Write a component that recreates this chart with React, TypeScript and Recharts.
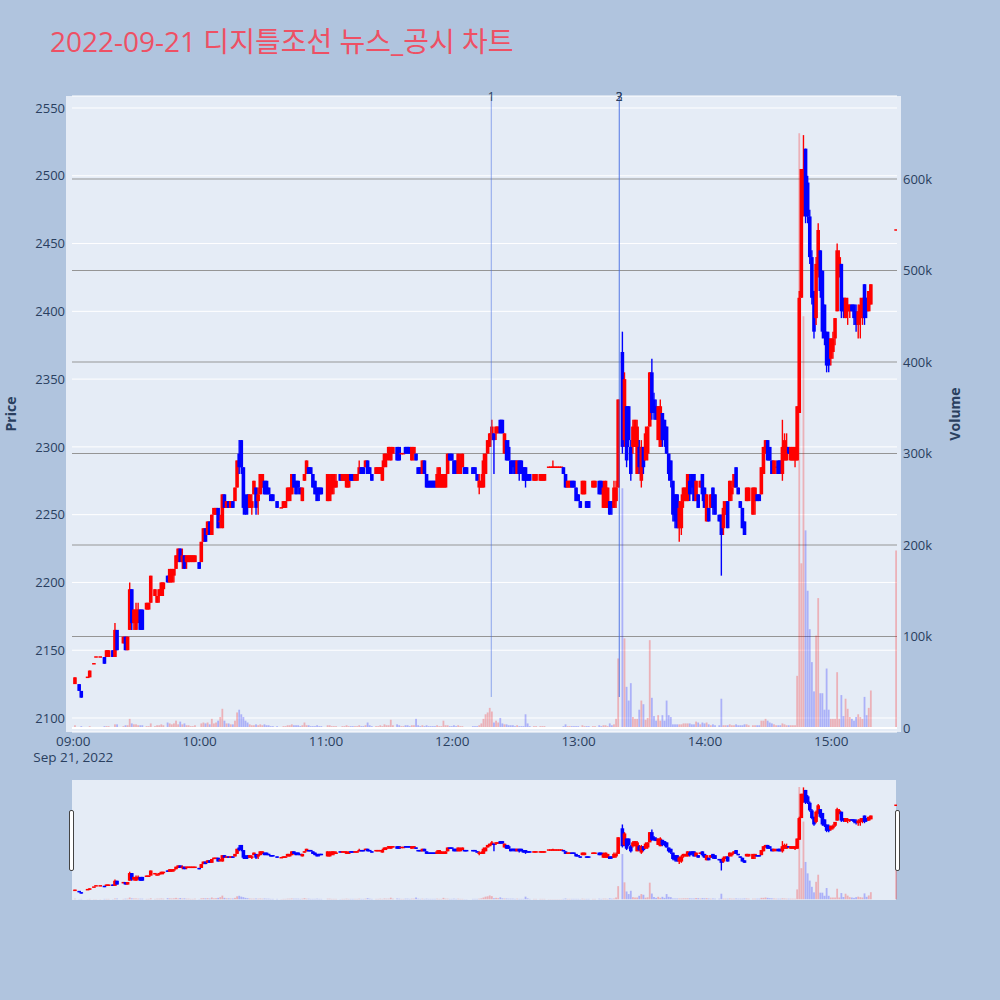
import React from 'react';
import { ComposedChart, Bar, XAxis, YAxis, CartesianGrid, ReferenceLine } from 'recharts';

// [minute after 09:00, open, high, low, close, volume (thousand shares)]
const hour09 = [
  [0, 2125, 2130, 2125, 2130, 3], [2, 2125, 2125, 2120, 2120, 1], [3, 2120, 2120, 2115, 2115, 2],
  [6, 2130, 2130, 2130, 2130, 1], [7, 2130, 2135, 2130, 2135, 2], [9, 2140, 2140, 2140, 2140, 1],
  [10, 2145, 2145, 2145, 2145, 1], [12, 2145, 2145, 2145, 2145, 1], [14, 2145, 2145, 2140, 2140, 2],
  [15, 2145, 2150, 2145, 2150, 2], [16, 2145, 2150, 2145, 2150, 2], [18, 2150, 2150, 2145, 2145, 1],
  [19, 2145, 2170, 2145, 2165, 4], [20, 2165, 2165, 2150, 2150, 4], [23, 2155, 2160, 2155, 2160, 2],
  [24, 2160, 2160, 2150, 2150, 3], [25, 2150, 2160, 2150, 2160, 3], [26, 2165, 2200, 2165, 2195, 10],
  [27, 2195, 2195, 2165, 2170, 5], [28, 2170, 2180, 2165, 2180, 4], [29, 2165, 2185, 2165, 2180, 4],
  [30, 2170, 2185, 2170, 2180, 3], [31, 2180, 2180, 2165, 2165, 3], [32, 2180, 2180, 2165, 2165, 3],
  [34, 2180, 2185, 2180, 2185, 2], [35, 2180, 2185, 2180, 2185, 2], [36, 2185, 2205, 2185, 2205, 5],
  [38, 2190, 2195, 2190, 2195, 2], [39, 2185, 2190, 2185, 2190, 3], [40, 2190, 2195, 2185, 2195, 3],
  [41, 2190, 2200, 2190, 2200, 4], [42, 2195, 2200, 2190, 2200, 3], [44, 2205, 2205, 2200, 2200, 6],
  [45, 2200, 2210, 2200, 2210, 5], [46, 2200, 2210, 2200, 2210, 4], [47, 2205, 2210, 2200, 2210, 5],
  [48, 2210, 2220, 2210, 2220, 8], [49, 2215, 2225, 2215, 2225, 4], [50, 2225, 2225, 2215, 2215, 7],
  [51, 2215, 2225, 2210, 2220, 4], [52, 2220, 2220, 2210, 2210, 5], [53, 2215, 2220, 2210, 2220, 3],
  [54, 2215, 2220, 2215, 2220, 3], [55, 2215, 2220, 2215, 2220, 2], [56, 2215, 2220, 2215, 2220, 2],
  [57, 2215, 2220, 2215, 2220, 3], [59, 2215, 2215, 2210, 2210, 1],
];

const hour10 = [
  [60, 2215, 2230, 2215, 2230, 5], [61, 2230, 2240, 2230, 2240, 6], [62, 2240, 2240, 2230, 2230, 5],
  [63, 2235, 2245, 2235, 2245, 6], [64, 2245, 2245, 2235, 2235, 4], [65, 2235, 2250, 2235, 2250, 10],
  [66, 2250, 2255, 2250, 2255, 5], [67, 2250, 2255, 2250, 2255, 6], [68, 2255, 2255, 2240, 2240, 8],
  [69, 2245, 2250, 2240, 2245, 12], [70, 2240, 2265, 2240, 2265, 21], [71, 2265, 2265, 2255, 2255, 8],
  [72, 2255, 2260, 2255, 2260, 5], [73, 2260, 2260, 2255, 2255, 5], [74, 2255, 2260, 2255, 2260, 4],
  [75, 2260, 2260, 2255, 2255, 4], [76, 2260, 2270, 2260, 2270, 8], [77, 2270, 2290, 2270, 2290, 17],
  [78, 2295, 2305, 2280, 2285, 20], [79, 2305, 2305, 2280, 2285, 15], [80, 2285, 2285, 2250, 2255, 12],
  [81, 2260, 2265, 2250, 2250, 8], [82, 2265, 2265, 2250, 2255, 6], [83, 2255, 2265, 2255, 2265, 4],
  [84, 2255, 2265, 2250, 2260, 3], [85, 2265, 2275, 2265, 2275, 3], [86, 2270, 2270, 2250, 2255, 4],
  [87, 2260, 2270, 2250, 2265, 3], [88, 2265, 2280, 2265, 2280, 4], [89, 2270, 2280, 2270, 2280, 3],
  [90, 2275, 2275, 2265, 2265, 4], [91, 2275, 2275, 2265, 2265, 3], [92, 2270, 2270, 2265, 2265, 3],
  [93, 2265, 2265, 2260, 2260, 2], [94, 2265, 2265, 2260, 2260, 2], [96, 2260, 2260, 2255, 2255, 2],
  [98, 2255, 2255, 2255, 2255, 1], [99, 2255, 2260, 2255, 2260, 2], [100, 2255, 2260, 2255, 2260, 2],
  [101, 2260, 2270, 2260, 2270, 3], [102, 2260, 2270, 2260, 2270, 3], [103, 2265, 2280, 2265, 2280, 4],
  [104, 2280, 2280, 2270, 2270, 3], [105, 2275, 2275, 2265, 2265, 3], [106, 2275, 2275, 2265, 2270, 3],
  [107, 2270, 2270, 2265, 2265, 2], [108, 2260, 2270, 2260, 2270, 3], [109, 2275, 2280, 2275, 2280, 6],
  [110, 2280, 2290, 2280, 2290, 3], [111, 2285, 2285, 2280, 2280, 3], [112, 2285, 2285, 2280, 2280, 2],
  [113, 2280, 2280, 2270, 2270, 2], [114, 2275, 2275, 2265, 2265, 2], [115, 2270, 2270, 2260, 2260, 3],
  [116, 2270, 2270, 2260, 2265, 2], [117, 2270, 2270, 2265, 2265, 2],
];

const hour11 = [
  [120, 2260, 2280, 2260, 2280, 3], [121, 2260, 2280, 2260, 2275, 3], [122, 2265, 2280, 2265, 2280, 2],
  [123, 2270, 2280, 2265, 2280, 2], [124, 2270, 2280, 2270, 2275, 2], [126, 2280, 2280, 2275, 2275, 1],
  [127, 2275, 2280, 2275, 2280, 2], [128, 2275, 2280, 2275, 2280, 2], [129, 2270, 2280, 2270, 2280, 3],
  [130, 2270, 2280, 2270, 2275, 2], [131, 2280, 2280, 2275, 2275, 2], [132, 2280, 2280, 2275, 2275, 2],
  [133, 2275, 2280, 2275, 2280, 2], [134, 2275, 2280, 2275, 2280, 2], [135, 2280, 2290, 2280, 2285, 3],
  [136, 2285, 2285, 2280, 2280, 2], [137, 2285, 2285, 2280, 2280, 2], [138, 2285, 2290, 2285, 2290, 3],
  [139, 2290, 2290, 2280, 2280, 6], [140, 2285, 2285, 2280, 2280, 3], [141, 2280, 2280, 2275, 2275, 2],
  [143, 2280, 2285, 2280, 2285, 2], [144, 2280, 2285, 2280, 2285, 2], [145, 2280, 2285, 2280, 2285, 3],
  [146, 2275, 2290, 2275, 2285, 2], [147, 2285, 2295, 2285, 2295, 4], [148, 2290, 2295, 2285, 2295, 3],
  [149, 2295, 2300, 2290, 2300, 3], [150, 2290, 2300, 2290, 2300, 9], [151, 2295, 2300, 2295, 2300, 3],
  [153, 2300, 2300, 2290, 2290, 4], [154, 2300, 2300, 2290, 2290, 3], [155, 2295, 2295, 2295, 2295, 2],
  [156, 2295, 2295, 2295, 2295, 2], [157, 2300, 2300, 2295, 2295, 3], [158, 2300, 2300, 2295, 2295, 3],
  [159, 2300, 2300, 2295, 2295, 2], [160, 2290, 2300, 2290, 2300, 3], [161, 2295, 2300, 2290, 2300, 3],
  [162, 2295, 2295, 2290, 2290, 10], [163, 2285, 2285, 2280, 2280, 3], [164, 2285, 2285, 2280, 2280, 2],
  [165, 2280, 2290, 2280, 2290, 3], [166, 2290, 2290, 2280, 2280, 2], [167, 2280, 2280, 2270, 2270, 3],
  [168, 2275, 2275, 2270, 2270, 2], [169, 2275, 2275, 2270, 2270, 2], [170, 2275, 2275, 2270, 2270, 2],
  [171, 2275, 2275, 2270, 2270, 2], [172, 2270, 2285, 2270, 2280, 3], [173, 2270, 2285, 2270, 2285, 2],
  [174, 2270, 2280, 2270, 2280, 2], [175, 2270, 2280, 2270, 2275, 8], [176, 2270, 2280, 2270, 2280, 3],
  [177, 2280, 2295, 2280, 2295, 3], [178, 2295, 2295, 2290, 2290, 2], [179, 2295, 2295, 2290, 2290, 2],
];

const hour12 = [
  [180, 2290, 2290, 2280, 2280, 3], [181, 2290, 2290, 2280, 2280, 2], [182, 2280, 2295, 2280, 2295, 3],
  [183, 2280, 2295, 2280, 2290, 2], [184, 2285, 2295, 2285, 2295, 2], [185, 2285, 2285, 2280, 2280, 1],
  [186, 2285, 2285, 2280, 2280, 1], [189, 2285, 2285, 2280, 2280, 2], [190, 2285, 2285, 2280, 2280, 2],
  [191, 2280, 2280, 2275, 2275, 2], [192, 2270, 2280, 2265, 2275, 3], [193, 2270, 2280, 2270, 2275, 5],
  [194, 2270, 2295, 2270, 2290, 10], [195, 2280, 2295, 2280, 2295, 15], [196, 2295, 2305, 2295, 2305, 17],
  [197, 2300, 2310, 2300, 2310, 22], [198, 2305, 2320, 2305, 2315, 18], [199, 2310, 2310, 2280, 2305, 6],
  [200, 2310, 2315, 2305, 2315, 8], [201, 2310, 2315, 2310, 2315, 6], [202, 2320, 2320, 2310, 2310, 11],
  [203, 2320, 2320, 2310, 2310, 5], [204, 2295, 2310, 2295, 2310, 4], [205, 2305, 2305, 2290, 2290, 4],
  [206, 2300, 2305, 2290, 2290, 3], [207, 2290, 2290, 2280, 2280, 3], [208, 2290, 2290, 2280, 2285, 3],
  [209, 2290, 2290, 2280, 2280, 2], [210, 2280, 2290, 2280, 2290, 3], [211, 2290, 2290, 2275, 2280, 2],
  [212, 2290, 2290, 2280, 2280, 2], [213, 2285, 2285, 2275, 2275, 2], [214, 2285, 2285, 2270, 2275, 15],
  [215, 2280, 2280, 2275, 2275, 5], [216, 2280, 2280, 2275, 2275, 2], [218, 2275, 2280, 2275, 2280, 2],
  [219, 2275, 2280, 2275, 2280, 2], [221, 2275, 2280, 2275, 2280, 2], [222, 2275, 2280, 2275, 2280, 2],
  [223, 2275, 2280, 2275, 2280, 2], [225, 2285, 2285, 2285, 2285, 1], [226, 2285, 2285, 2285, 2285, 1],
  [227, 2285, 2290, 2285, 2285, 1], [228, 2285, 2285, 2285, 2285, 1], [229, 2285, 2285, 2285, 2285, 1],
  [230, 2285, 2285, 2285, 2285, 1], [231, 2285, 2285, 2285, 2285, 1], [232, 2285, 2285, 2280, 2280, 2],
  [233, 2280, 2280, 2270, 2270, 4], [234, 2270, 2275, 2270, 2275, 2], [235, 2270, 2275, 2270, 2275, 2],
  [236, 2275, 2275, 2270, 2270, 2], [237, 2275, 2275, 2270, 2270, 2], [238, 2270, 2270, 2260, 2260, 2],
  [239, 2265, 2265, 2260, 2260, 2],
];

const hour13 = [
  [240, 2260, 2260, 2255, 2255, 1], [241, 2265, 2275, 2265, 2275, 3], [242, 2265, 2275, 2265, 2275, 2],
  [243, 2260, 2260, 2255, 2255, 2], [244, 2260, 2260, 2255, 2255, 2], [246, 2270, 2275, 2270, 2275, 2],
  [247, 2270, 2275, 2270, 2275, 2], [249, 2275, 2275, 2265, 2265, 3], [250, 2275, 2275, 2265, 2265, 2],
  [251, 2255, 2275, 2255, 2270, 3], [252, 2255, 2275, 2255, 2275, 3], [253, 2255, 2270, 2255, 2270, 2],
  [254, 2260, 2260, 2250, 2250, 5], [255, 2260, 2260, 2250, 2255, 3], [256, 2255, 2275, 2255, 2270, 4],
  [257, 2260, 2275, 2255, 2270, 10], [258, 2270, 2335, 2270, 2335, 76], [260, 2370, 2385, 2295, 2300, 262],
  [261, 2305, 2355, 2300, 2350, 98], [262, 2330, 2330, 2285, 2290, 45], [263, 2330, 2330, 2300, 2305, 30],
  [264, 2300, 2305, 2275, 2280, 49], [265, 2300, 2320, 2295, 2315, 12], [266, 2300, 2320, 2300, 2320, 10],
  [267, 2280, 2320, 2280, 2315, 10], [268, 2300, 2305, 2280, 2285, 20], [269, 2275, 2305, 2270, 2300, 30],
  [270, 2300, 2300, 2280, 2285, 26], [271, 2290, 2315, 2290, 2310, 9], [272, 2295, 2315, 2290, 2315, 11],
  [273, 2315, 2355, 2315, 2355, 96], [274, 2355, 2365, 2320, 2325, 33], [275, 2335, 2340, 2320, 2325, 13],
  [276, 2330, 2335, 2320, 2320, 8], [277, 2305, 2330, 2305, 2330, 14], [278, 2300, 2335, 2300, 2330, 8],
  [279, 2325, 2325, 2300, 2305, 14], [280, 2320, 2320, 2300, 2305, 8], [281, 2315, 2315, 2295, 2295, 30],
  [282, 2295, 2295, 2275, 2280, 14], [283, 2290, 2290, 2270, 2275, 12], [284, 2275, 2275, 2245, 2250, 4],
  [285, 2265, 2265, 2240, 2245, 4], [286, 2265, 2265, 2240, 2240, 4], [287, 2240, 2260, 2230, 2255, 4],
  [288, 2240, 2265, 2235, 2260, 4], [289, 2260, 2270, 2255, 2270, 5], [290, 2260, 2270, 2260, 2270, 5],
  [291, 2260, 2280, 2260, 2280, 5], [292, 2275, 2280, 2260, 2265, 5], [293, 2280, 2280, 2265, 2270, 4],
  [294, 2280, 2280, 2260, 2260, 4], [295, 2260, 2275, 2260, 2275, 7], [296, 2265, 2265, 2255, 2255, 6],
  [297, 2270, 2275, 2270, 2275, 4], [298, 2280, 2280, 2260, 2265, 6], [299, 2270, 2270, 2255, 2255, 5],
];

const hour14 = [
  [300, 2245, 2265, 2245, 2265, 6], [301, 2255, 2255, 2245, 2245, 4], [302, 2255, 2265, 2255, 2265, 3],
  [303, 2270, 2270, 2250, 2255, 4], [304, 2265, 2265, 2250, 2250, 3], [306, 2250, 2250, 2245, 2245, 3],
  [307, 2250, 2250, 2205, 2235, 32], [308, 2240, 2260, 2235, 2255, 3], [309, 2250, 2260, 2250, 2260, 3],
  [310, 2260, 2260, 2240, 2240, 3], [311, 2260, 2275, 2260, 2275, 4], [312, 2265, 2275, 2260, 2270, 3],
  [313, 2270, 2280, 2270, 2280, 3], [314, 2285, 2285, 2270, 2270, 4], [315, 2270, 2270, 2265, 2265, 3],
  [316, 2260, 2260, 2255, 2255, 3], [317, 2255, 2255, 2240, 2240, 3], [318, 2245, 2245, 2235, 2235, 4],
  [319, 2260, 2270, 2260, 2270, 4], [320, 2260, 2270, 2260, 2270, 3], [322, 2250, 2270, 2250, 2270, 3],
  [323, 2260, 2270, 2250, 2270, 3], [324, 2265, 2265, 2260, 2260, 3], [325, 2265, 2265, 2260, 2260, 3],
  [326, 2265, 2285, 2265, 2285, 8], [327, 2280, 2300, 2280, 2300, 8], [328, 2295, 2305, 2295, 2305, 10],
  [329, 2305, 2305, 2290, 2290, 8], [330, 2300, 2300, 2290, 2290, 6], [331, 2290, 2290, 2280, 2280, 5],
  [332, 2280, 2290, 2280, 2290, 4], [333, 2285, 2290, 2280, 2285, 3], [334, 2290, 2290, 2280, 2280, 3],
  [335, 2290, 2290, 2280, 2280, 3], [336, 2280, 2320, 2275, 2300, 5], [337, 2290, 2310, 2290, 2305, 4],
  [338, 2290, 2310, 2290, 2300, 3], [339, 2300, 2300, 2295, 2295, 3], [340, 2290, 2300, 2290, 2300, 3],
  [341, 2290, 2300, 2290, 2300, 3], [342, 2290, 2300, 2285, 2300, 3], [343, 2290, 2330, 2290, 2330, 57],
  [344, 2325, 2415, 2325, 2410, 650], [345, 2410, 2505, 2410, 2505, 180], [346, 2475, 2530, 2470, 2505, 450],
  [347, 2520, 2520, 2465, 2470, 216], [348, 2495, 2500, 2465, 2470, 150], [349, 2470, 2475, 2435, 2440, 108],
  [350, 2440, 2445, 2405, 2410, 72], [351, 2415, 2415, 2380, 2385, 40], [352, 2395, 2440, 2390, 2435, 101],
  [353, 2430, 2465, 2425, 2460, 142], [354, 2445, 2445, 2410, 2415, 38], [355, 2430, 2430, 2380, 2385, 38],
  [356, 2405, 2405, 2375, 2380, 20], [357, 2385, 2385, 2355, 2360, 65], [358, 2380, 2385, 2355, 2360, 20],
  [359, 2365, 2380, 2360, 2380, 10],
];

const hour15 = [
  [360, 2370, 2385, 2365, 2380, 10], [361, 2380, 2395, 2375, 2395, 10], [362, 2400, 2450, 2400, 2445, 61],
  [363, 2430, 2445, 2425, 2440, 10], [364, 2435, 2435, 2395, 2400, 36], [365, 2410, 2410, 2395, 2400, 13],
  [366, 2395, 2410, 2395, 2410, 32], [367, 2400, 2410, 2390, 2405, 21], [368, 2400, 2405, 2395, 2405, 12],
  [369, 2405, 2405, 2400, 2400, 10], [370, 2405, 2405, 2390, 2395, 8], [371, 2400, 2405, 2385, 2390, 12],
  [372, 2390, 2405, 2380, 2400, 15], [373, 2395, 2410, 2380, 2405, 12], [374, 2395, 2410, 2390, 2410, 10],
  [375, 2420, 2420, 2390, 2395, 34], [376, 2410, 2410, 2395, 2400, 14], [377, 2400, 2415, 2400, 2415, 22],
  [378, 2405, 2420, 2405, 2420, 41], [390, 2460, 2460, 2460, 2460, 194],
];

const timeTicks = [0, 60, 120, 180, 240, 300, 360];
const timeLabels = ['09:00', '10:00', '11:00', '12:00', '13:00', '14:00', '15:00'];
const priceTicks = [2100, 2150, 2200, 2250, 2300, 2350, 2400, 2450, 2500, 2550];
const volumeTicks = [0, 100, 200, 300, 400, 500, 600];
const volumeGrid = [100, 200, 300, 400, 500, 600];
// news markers (minutes after 09:00)
const newsMarks = [
  { t: 197.8, label: '1' },
  { t: 258.6, label: '3' },
  { t: 258.6, label: '2' },
];

const candles = [...hour09, ...hour10, ...hour11, ...hour12, ...hour13, ...hour14, ...hour15].map(
  ([t, o, h, l, c, v]) => ({ t, o, h, l, c, v, range: [l, h] })
);

const FONT = '"Open Sans", verdana, arial, sans-serif';
const AXIS = '#2a3f5f';
const UP = '#ff0000';
const DOWN = '#0000ff';
const X_DOMAIN = [-1.33, 390.5];
const PRICE_DOMAIN = [2089.67, 2558.85];
const VOL_DOMAIN = [-4.37, 690.7];

const Candle = (props: any) => {
  const { x, y, width, height, payload } = props;
  const { o, h, l, c } = payload;
  const cx = x + width / 2;
  const color = c >= o ? UP : DOWN;
  const k = h > l ? height / (h - l) : 0;
  let top = y + (h - Math.max(o, c)) * k;
  let bot = y + (h - Math.min(o, c)) * k;
  if (bot - top < 1.5) {
    const m = (top + bot) / 2;
    top = m - 0.75;
    bot = m + 0.75;
  }
  return (
    <g>
      <line x1={cx} x2={cx} y1={y} y2={y + height} stroke={color} strokeWidth={1.4} />
      <rect x={cx - 1.8} y={top} width={3.6} height={bot - top} fill={color} />
    </g>
  );
};

const VolumeBar = (props: any) => {
  const { x, y, width, height, payload } = props;
  const cx = x + width / 2;
  const up = payload.c >= payload.o;
  return (
    <rect
      x={cx - 0.9}
      y={y}
      width={1.8}
      height={Math.max(height, 0)}
      fill={up ? 'rgba(255,0,0,0.25)' : 'rgba(0,0,255,0.25)'}
    />
  );
};

const TimeTick = ({ x, y, payload }: any) => {
  const i = timeTicks.indexOf(payload.value);
  return (
    <g>
      <text x={x - 1.5} y={y + 9} textAnchor="middle" fill={AXIS} fontSize={13.5} fontFamily={FONT}>
        {timeLabels[i]}
      </text>
      {payload.value === 0 && (
        <text x={x - 1.5} y={y + 25} textAnchor="middle" fill={AXIS} fontSize={13.5} fontFamily={FONT}>
          Sep 21, 2022
        </text>
      )}
    </g>
  );
};

const markLabel = (text: string) => (props: any) => {
  const { viewBox } = props;
  return (
    <text x={viewBox.x} y={viewBox.y + 5} textAnchor="middle" fill={AXIS} fontSize={12} fontFamily={FONT}>
      {text}
    </text>
  );
};

const App = () => {
  return (
    <div style={{ position: 'absolute', left: 0, top: 0, width: 1000, height: 1000, background: '#b0c4de', fontFamily: FONT }}>
      <svg width={1000} height={80} style={{ position: 'absolute', left: 0, top: 0 }}>
        <text x={50} y={52} fontSize={28} fill="#ee5064" fontFamily={'"Open Sans", "Noto Sans CJK KR", sans-serif'}>
          2022-09-21 디지틀조선 뉴스_공시 차트
        </text>
      </svg>

      <div style={{ position: 'absolute', left: 66, top: 96, width: 835, height: 636, background: '#e5ecf6' }} />

      <div style={{ position: 'absolute', left: 0, top: 0 }}>
        <ComposedChart width={1000} height={800} data={candles} margin={{ top: 96, right: 0, bottom: 28, left: 0 }}>
          <XAxis
            xAxisId="t"
            type="number"
            dataKey="t"
            domain={X_DOMAIN}
            ticks={timeTicks}
            allowDataOverflow
            axisLine={false}
            tickLine={false}
            tickSize={0}
            tickMargin={5}
            height={40}
            tick={<TimeTick />}
            interval={0}
          />
          <XAxis xAxisId="tv" type="number" dataKey="t" domain={X_DOMAIN} allowDataOverflow hide />
          <YAxis
            yAxisId="price"
            orientation="left"
            domain={PRICE_DOMAIN}
            ticks={priceTicks}
            allowDataOverflow
            width={72}
            axisLine={false}
            tickLine={false}
            tickSize={0}
            tickMargin={7}
            interval={0}
            tick={{ fill: AXIS, fontSize: 13, fontFamily: FONT }}
            label={{
              content: () => (
                <text x={10} y={414} transform="rotate(-90 10 414)" textAnchor="middle" dominantBaseline="central" fill={AXIS} fontSize={14} fontWeight="bold" fontFamily={FONT}>
                  Price
                </text>
              ),
            }}
          />
          <YAxis
            yAxisId="vol"
            orientation="right"
            domain={VOL_DOMAIN}
            ticks={volumeTicks}
            allowDataOverflow
            width={103}
            axisLine={false}
            tickLine={false}
            tickSize={0}
            tickMargin={6}
            interval={0}
            tickFormatter={(v: number) => (v === 0 ? '0' : `${v}k`)}
            tick={{ fill: AXIS, fontSize: 13, fontFamily: FONT }}
            label={{
              content: () => (
                <text x={954} y={414} transform="rotate(-90 954 414)" textAnchor="middle" dominantBaseline="central" fill={AXIS} fontSize={14} fontWeight="bold" fontFamily={FONT}>
                  Volume
                </text>
              ),
            }}
          />
          <CartesianGrid xAxisId="t" yAxisId="price" vertical={false} stroke="#ffffff" strokeWidth={1} />
          <CartesianGrid xAxisId="t" yAxisId="vol" vertical={false} horizontalValues={volumeGrid} stroke="#959595" strokeWidth={1.2} />
          <ReferenceLine xAxisId="t" yAxisId="vol" y={0} stroke="#ffffff" strokeWidth={2} />
          {newsMarks.map((m, i) => (
            <ReferenceLine
              key={i}
              xAxisId="t"
              yAxisId="price"
              segment={[{ x: m.t, y: 2115.5 }, { x: m.t, y: 2558.5 }]}
              stroke="rgba(65,105,225,0.55)"
              strokeWidth={1}
              label={markLabel(m.label)}
            />
          ))}
          <Bar xAxisId="tv" yAxisId="vol" dataKey="v" shape={<VolumeBar />} isAnimationActive={false} />
          <Bar xAxisId="t" yAxisId="price" dataKey="range" shape={<Candle />} isAnimationActive={false} />
        </ComposedChart>
      </div>

      <div style={{ position: 'absolute', left: 72, top: 780, width: 824, height: 120, background: '#e5ecf6' }} />
      <div style={{ position: 'absolute', left: 72, top: 780 }}>
        <ComposedChart width={825} height={120} data={candles} margin={{ top: 0, right: 0, bottom: 0, left: 0 }}>
          <XAxis xAxisId="t" type="number" dataKey="t" domain={X_DOMAIN} allowDataOverflow hide />
          <XAxis xAxisId="tv" type="number" dataKey="t" domain={X_DOMAIN} allowDataOverflow hide />
          <YAxis yAxisId="price" domain={PRICE_DOMAIN} allowDataOverflow hide />
          <YAxis yAxisId="vol" domain={VOL_DOMAIN} allowDataOverflow hide />
          <Bar xAxisId="tv" yAxisId="vol" dataKey="v" shape={<VolumeBar />} isAnimationActive={false} />
          <Bar xAxisId="t" yAxisId="price" dataKey="range" shape={<Candle />} isAnimationActive={false} />
        </ComposedChart>
      </div>
      <div style={{ position: 'absolute', left: 69, top: 810, width: 3, height: 59, background: '#fff', border: '1px solid #444', borderRadius: 2 }} />
      <div style={{ position: 'absolute', left: 895, top: 810, width: 3, height: 59, background: '#fff', border: '1px solid #444', borderRadius: 2 }} />
    </div>
  );
};

export default App;
